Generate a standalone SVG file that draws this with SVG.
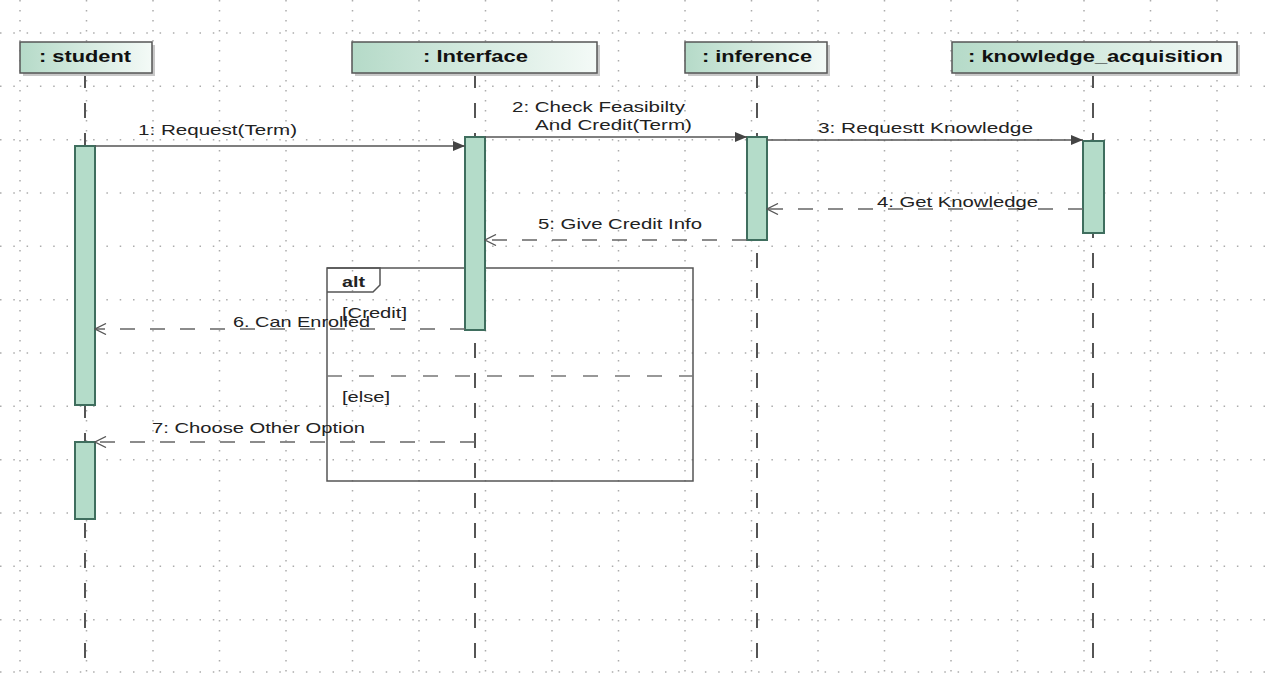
<svg xmlns="http://www.w3.org/2000/svg" width="1269" height="673" viewBox="0 0 1269 673">
<defs>
<linearGradient id="headGrad" x1="0" y1="0" x2="1" y2="0">
<stop offset="0" stop-color="#b5dac8"/>
<stop offset="1" stop-color="#f4faf7"/>
</linearGradient>
<marker id="filled" viewBox="0 0 12 10" refX="12" refY="5" markerWidth="12" markerHeight="10" markerUnits="userSpaceOnUse" orient="auto">
<path d="M0,0 L12,5 L0,10 z" fill="#444"/>
</marker>
<marker id="open" viewBox="0 0 13 12" refX="12" refY="6" markerWidth="13" markerHeight="12" markerUnits="userSpaceOnUse" orient="auto">
<path d="M1,0.5 L12,6 L1,11.5" fill="none" stroke="#555" stroke-width="1.3"/>
</marker>
</defs>
<style>
.gv{stroke:#acacac;stroke-width:1.5;stroke-dasharray:1.5 8.5}
.gh{stroke:#acacac;stroke-width:1.5;stroke-dasharray:1.5 11.8}
.head{fill:url(#headGrad);stroke:#555;stroke-width:1.5}
.shadow{fill:#c8c8c8}
.htxt{font-family:"Liberation Sans",Arial,sans-serif;font-weight:bold;font-size:16px;fill:#111}
.life{stroke:#555;stroke-width:2;stroke-dasharray:15 15;fill:none}
.act{fill:#b4dcc9;stroke:#3f6e5e;stroke-width:2}
.msg{stroke:#555;stroke-width:1.5;fill:none}
.ret{stroke:#666;stroke-width:1.5;fill:none;stroke-dasharray:15 15}
.lbl{font-family:"Liberation Sans",Arial,sans-serif;font-size:15px;fill:#222}
.frame{fill:none;stroke:#555;stroke-width:1.5}
.sep{stroke:#777;stroke-width:1.5;stroke-dasharray:15 17}
</style>
<rect width="1269" height="673" fill="#ffffff"/>
<g id="grid">
<line class="gv" x1="20" y1="0" x2="20" y2="673"/>
<line class="gv" x1="86.5" y1="0" x2="86.5" y2="673"/>
<line class="gv" x1="153" y1="0" x2="153" y2="673"/>
<line class="gv" x1="219.5" y1="0" x2="219.5" y2="673"/>
<line class="gv" x1="286" y1="0" x2="286" y2="673"/>
<line class="gv" x1="352.5" y1="0" x2="352.5" y2="673"/>
<line class="gv" x1="419" y1="0" x2="419" y2="673"/>
<line class="gv" x1="485.5" y1="0" x2="485.5" y2="673"/>
<line class="gv" x1="552" y1="0" x2="552" y2="673"/>
<line class="gv" x1="618.5" y1="0" x2="618.5" y2="673"/>
<line class="gv" x1="685" y1="0" x2="685" y2="673"/>
<line class="gv" x1="751.5" y1="0" x2="751.5" y2="673"/>
<line class="gv" x1="818" y1="0" x2="818" y2="673"/>
<line class="gv" x1="884.5" y1="0" x2="884.5" y2="673"/>
<line class="gv" x1="951" y1="0" x2="951" y2="673"/>
<line class="gv" x1="1017.5" y1="0" x2="1017.5" y2="673"/>
<line class="gv" x1="1084" y1="0" x2="1084" y2="673"/>
<line class="gv" x1="1150.5" y1="0" x2="1150.5" y2="673"/>
<line class="gv" x1="1217" y1="0" x2="1217" y2="673"/>
<line class="gh" x1="0" y1="33" x2="1269" y2="33"/>
<line class="gh" x1="0" y1="86.3" x2="1269" y2="86.3"/>
<line class="gh" x1="0" y1="139.7" x2="1269" y2="139.7"/>
<line class="gh" x1="0" y1="193" x2="1269" y2="193"/>
<line class="gh" x1="0" y1="246.3" x2="1269" y2="246.3"/>
<line class="gh" x1="0" y1="299.7" x2="1269" y2="299.7"/>
<line class="gh" x1="0" y1="353" x2="1269" y2="353"/>
<line class="gh" x1="0" y1="406.3" x2="1269" y2="406.3"/>
<line class="gh" x1="0" y1="459.7" x2="1269" y2="459.7"/>
<line class="gh" x1="0" y1="513" x2="1269" y2="513"/>
<line class="gh" x1="0" y1="566.3" x2="1269" y2="566.3"/>
<line class="gh" x1="0" y1="619.7" x2="1269" y2="619.7"/>
<line class="gh" x1="0" y1="672" x2="1269" y2="672"/>
</g>
<g id="lifelines">
<line class="life" x1="85" y1="73" x2="85" y2="673"/>
<line class="life" x1="475" y1="73" x2="475" y2="673"/>
<line class="life" x1="757" y1="73" x2="757" y2="673"/>
<line class="life" x1="1093" y1="73" x2="1093" y2="673"/>
</g>
<g id="student">
<rect class="shadow" x="23" y="45" width="132" height="31"/>
<rect class="head" x="20" y="42" width="132" height="31"/>
<text class="htxt" x="39" y="62" textLength="92" lengthAdjust="spacingAndGlyphs">: student</text>
</g>
<g id="interface">
<rect class="shadow" x="355" y="45" width="245" height="31"/>
<rect class="head" x="352" y="42" width="245" height="31"/>
<text class="htxt" x="423" y="62" textLength="105" lengthAdjust="spacingAndGlyphs">: Interface</text>
</g>
<g id="inference">
<rect class="shadow" x="688" y="45" width="142" height="31"/>
<rect class="head" x="685" y="42" width="142" height="31"/>
<text class="htxt" x="702" y="62" textLength="110" lengthAdjust="spacingAndGlyphs">: inference</text>
</g>
<g id="knowledge_acquisition">
<rect class="shadow" x="955" y="45" width="285" height="31"/>
<rect class="head" x="952" y="42" width="285" height="31"/>
<text class="htxt" x="968" y="62" textLength="255" lengthAdjust="spacingAndGlyphs">: knowledge_acquisition</text>
</g>
<g id="alt_frame">
<rect class="frame" x="327" y="268" width="366" height="213"/>
<path class="frame" d="M327,268 H380 V285 L373,292 H327"/>
<text class="lbl" x="342" y="287" font-weight="bold" textLength="23" lengthAdjust="spacingAndGlyphs">alt</text>
<text class="lbl" x="342" y="318" textLength="65" lengthAdjust="spacingAndGlyphs">[Credit]</text>
<line class="sep" x1="327" y1="376" x2="693" y2="376"/>
<text class="lbl" x="342" y="402" textLength="48" lengthAdjust="spacingAndGlyphs">[else]</text>
</g>
<g id="activations">
<rect class="act" x="75" y="146" width="20" height="259"/>
<rect class="act" x="75" y="442" width="20" height="77"/>
<rect class="act" x="465" y="137" width="20" height="193"/>
<rect class="act" x="747" y="137" width="20" height="103"/>
<rect class="act" x="1083" y="141" width="21" height="92"/>
</g>
<g id="connectors">
<line class="msg" x1="95" y1="146" x2="465" y2="146" marker-end="url(#filled)"/>
<line class="msg" x1="485" y1="137" x2="747" y2="137" marker-end="url(#filled)"/>
<line class="msg" x1="767" y1="140" x2="1083" y2="140" marker-end="url(#filled)"/>
<line class="ret" x1="1083" y1="209" x2="767" y2="209" marker-end="url(#open)"/>
<line class="ret" x1="747" y1="240" x2="485" y2="240" marker-end="url(#open)"/>
<line class="ret" x1="465" y1="329" x2="95" y2="329" marker-end="url(#open)"/>
<line class="ret" x1="475" y1="442" x2="95" y2="442" marker-end="url(#open)"/>
<text class="lbl" x="138" y="135" textLength="159" lengthAdjust="spacingAndGlyphs">1: Request(Term)</text>
<text class="lbl" x="512" y="112" textLength="173" lengthAdjust="spacingAndGlyphs">2: Check Feasibilty</text>
<text class="lbl" x="535" y="130" textLength="157" lengthAdjust="spacingAndGlyphs">And Credit(Term)</text>
<text class="lbl" x="818" y="133" textLength="215" lengthAdjust="spacingAndGlyphs">3: Requestt Knowledge</text>
<text class="lbl" x="877" y="207" textLength="161" lengthAdjust="spacingAndGlyphs">4: Get Knowledge</text>
<text class="lbl" x="538" y="229" textLength="164" lengthAdjust="spacingAndGlyphs">5: Give Credit Info</text>
<text class="lbl" x="233" y="327" textLength="137" lengthAdjust="spacingAndGlyphs">6. Can Enrolled</text>
<text class="lbl" x="152" y="433" textLength="213" lengthAdjust="spacingAndGlyphs">7: Choose Other Option</text>
</g>
</svg>
